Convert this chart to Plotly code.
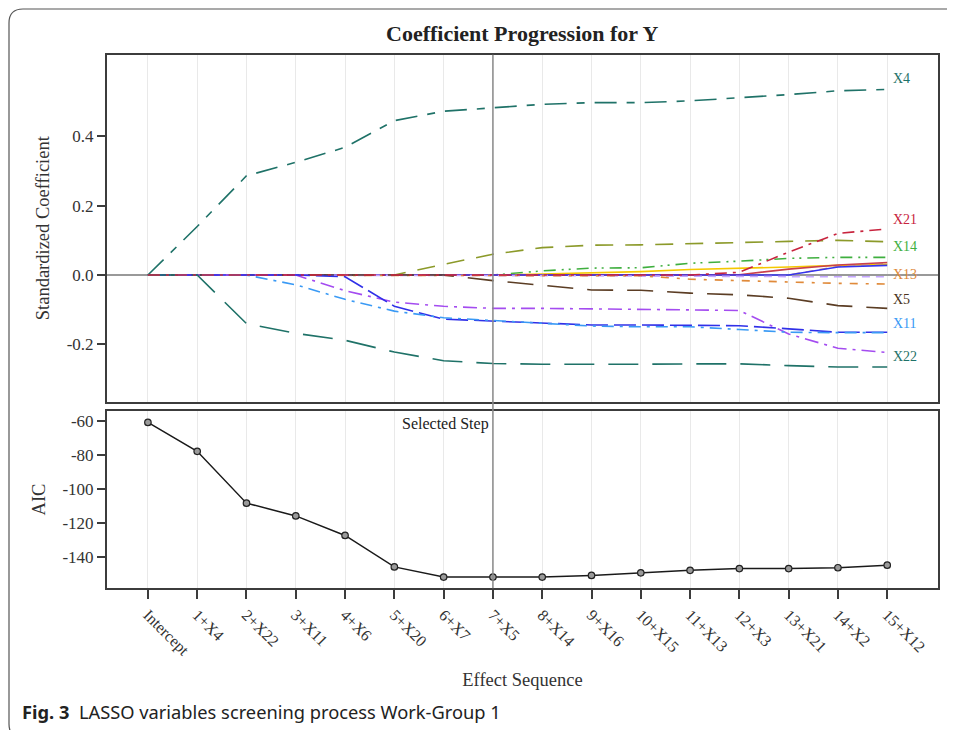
import plotly.graph_objects as go

# The page body has an 8px margin, so the figure is drawn 8px in from the window edge.
OFF = 8
W, H = 955 - OFF, 730 - OFF

steps = ["Intercept", "1+X4", "2+X22", "3+X11", "4+X6", "5+X20", "6+X7", "7+X5",
         "8+X14", "9+X16", "10+X15", "11+X13", "12+X3", "13+X21", "14+X2", "15+X12"]

aic = [-61, -78, -108.5, -116, -127.5, -146, -152, -152, -152, -151, -149.5,
       -148, -147, -147, -146.5, -145]

x4  = [0, 0.14, 0.286, 0.325, 0.368, 0.445, 0.472, 0.482, 0.492, 0.497, 0.497,
       0.502, 0.51, 0.52, 0.531, 0.535]
x22 = [0, 0, -0.14, -0.168, -0.188, -0.222, -0.247, -0.255, -0.257, -0.258, -0.257,
       -0.256, -0.256, -0.261, -0.265, -0.265]
x11 = [0, 0, 0, -0.028, -0.07, -0.104, -0.123, -0.131, -0.138, -0.147, -0.149,
       -0.149, -0.157, -0.165, -0.166, -0.166]
x6  = [0, 0, 0, 0, -0.005, -0.09, -0.127, -0.132, -0.137, -0.144, -0.144,
       -0.146, -0.146, -0.155, -0.165, -0.165]
x20 = [0, 0, 0, 0, -0.045, -0.078, -0.09, -0.096, -0.096, -0.097, -0.098,
       -0.101, -0.102, -0.17, -0.211, -0.223]
x7  = [0, 0, 0, 0, 0, 0, 0.031, 0.06, 0.079, 0.086, 0.087, 0.091, 0.094, 0.097,
       0.1, 0.096]
x5  = [0, 0, 0, 0, 0, 0, 0, -0.016, -0.03, -0.043, -0.044, -0.052, -0.057, -0.067,
       -0.088, -0.096]
x14 = [0, 0, 0, 0, 0, 0, 0, 0, 0.012, 0.02, 0.021, 0.034, 0.04, 0.048, 0.051, 0.051]
x16 = [0, 0, 0, 0, 0, 0, 0, 0, 0.003, 0.006, 0.01, 0.016, 0.019, 0.023, 0.028, 0.031]
x13 = [0, 0, 0, 0, 0, 0, 0, 0, 0, 0, -0.002, -0.012, -0.016, -0.021, -0.024, -0.026]
x15 = [0, 0, 0, 0, 0, 0, 0, 0, 0, -0.002, -0.003, -0.004, -0.004, -0.005, -0.005, -0.005]
x21 = [0, 0, 0, 0, 0, 0, 0, 0, 0, 0, 0, 0, 0.008, 0.066, 0.12, 0.133]
x3  = [0, 0, 0, 0, 0, 0, 0, 0, 0, 0, 0, 0, 0, 0, 0.023, 0.028]
x2  = [0, 0, 0, 0, 0, 0, 0, 0, 0, 0, 0, 0, 0.001, 0.017, 0.029, 0.036]
x12 = [0, 0, 0, 0, 0, 0, 0, 0, 0, 0, 0, 0, 0, 0, 0.025, 0.034]

series = [
    ("X7",  x7,  "#8c9a2a", "18px,12px"),
    ("X14", x14, "#3faf3f", "12px,6px,2px,5px,2px,6px"),
    ("X16", x16, "#f5c800", "solid"),
    ("X12", x12, "#d9a27a", "8px,6px"),
    ("X2",  x2,  "#c9404e", "solid"),
    ("X3",  x3,  "#3434f0", "solid"),
    ("X15", x15, "#c4a6ff", "8px,6px"),
    ("X13", x13, "#e08a3a", "8px,8px,3px,8px"),
    ("X5",  x5,  "#5b3d24", "26px,14px"),
    ("X20", x20, "#a44cf0", "14px,6px,3px,6px"),
    ("X6",  x6,  "#3030e8", "22px,6px"),
    ("X11", x11, "#3a9af5", "12px,6px,3px,6px"),
    ("X22", x22, "#1f7268", "30px,14px"),
    ("X4",  x4,  "#1f7268", "22px,10px,8px,10px"),
    ("X21", x21, "#c8243e", "12px,6px,3px,6px"),
]

labels = [("X4", 0.565, "#1f7268"), ("X21", 0.16, "#c8243e"), ("X14", 0.081, "#3faf3f"),
          ("X13", 0.003, "#e08a3a"), ("X5", -0.07, "#4a3320"), ("X11", -0.14, "#3a9af5"),
          ("X22", -0.236, "#1f7268")]

coef_ticks = [-0.2, 0.0, 0.2, 0.4]
coef_ticktext = ["-0.2", "0.0", "0.2", "0.4"]
aic_ticks = [-140, -120, -100, -80, -60]
aic_ticktext = ["-140", "-120", "-100", "-80", "-60"]

xs = list(range(len(steps)))
SERIF = "Liberation Serif"


def px(v):
    return (v - OFF) / W


def py(v):
    return 1 - (v - OFF) / H


fig = go.Figure()
for name, vals, col, dash in series:
    fig.add_trace(go.Scatter(x=xs, y=vals, mode="lines", name=name,
                             line=dict(color=col, width=1.6, dash=dash),
                             xaxis="x", yaxis="y", showlegend=False))

fig.add_trace(go.Scatter(x=xs, y=aic, mode="lines+markers", name="AIC",
                         line=dict(color="#1a1a1a", width=1.5),
                         marker=dict(symbol="circle", size=6.5, color="#9a9a9a",
                                     line=dict(color="#222", width=1.2)),
                         xaxis="x2", yaxis="y2", showlegend=False))

xr = [-0.83, 16.03]
xdom = [px(107), px(938)]
axis_common = dict(showline=True, mirror=True, linecolor="#3c3c3c", linewidth=2,
                   range=xr, tickmode="array", tickvals=xs, showgrid=True,
                   gridcolor="#e9e9e9", gridwidth=1, zeroline=False)
tickfont = dict(family=SERIF, size=17, color="#333")
titlefont = dict(family=SERIF, size=18.5, color="#333")

fig.update_layout(
    width=W, height=H, margin=dict(l=0, r=0, t=0, b=0),
    paper_bgcolor="white", plot_bgcolor="white",
    xaxis=dict(domain=xdom, anchor="y", showticklabels=False, ticks="", **axis_common),
    yaxis=dict(domain=[py(401.7), py(54.7)], anchor="x", range=[-0.365, 0.635],
               tickmode="array", tickvals=coef_ticks, ticktext=coef_ticktext,
               ticks="outside", ticklen=8, tickwidth=1.5, tickcolor="#3c3c3c",
               showline=True, mirror=True, linecolor="#3c3c3c", linewidth=2,
               showgrid=False, zeroline=True, zerolinecolor="#999999", zerolinewidth=1.5,
               tickfont=tickfont,
               title=dict(text="Standardized Coefficient", font=titlefont, standoff=12)),
    xaxis2=dict(domain=xdom, anchor="y2", ticktext=steps, ticks="outside", ticklen=9,
                tickwidth=1.5, tickcolor="#3c3c3c", tickangle=45,
                tickfont=dict(family=SERIF, size=16, color="#333"),
                title=dict(text="Effect Sequence", font=titlefont, standoff=14),
                **axis_common),
    yaxis2=dict(domain=[py(588.3), py(410.7)], anchor="x2", range=[-158.6, -54.1],
                tickmode="array", tickvals=aic_ticks, ticktext=aic_ticktext,
                ticks="outside", ticklen=8, tickwidth=1.5, tickcolor="#3c3c3c",
                showline=True, mirror=True, linecolor="#3c3c3c", linewidth=2,
                showgrid=False, zeroline=False,
                tickfont=tickfont,
                title=dict(text="AIC", font=titlefont, standoff=12)),
    showlegend=False,
)

# selected step line
fig.add_shape(type="line", xref="x", yref="paper", x0=7, x1=7,
              y0=py(588.3), y1=py(54.7), line=dict(color="#8a8a8a", width=1.5))

# outer rounded frame (right edge runs off the page)
x0, x1, y0, y1, r = 9, 975, 9, 738, 14
path = (f"M {px(x0 + r)},{py(y0)} L {px(x1 - r)},{py(y0)} "
        f"Q {px(x1)},{py(y0)} {px(x1)},{py(y0 + r)} L {px(x1)},{py(y1 - r)} "
        f"Q {px(x1)},{py(y1)} {px(x1 - r)},{py(y1)} L {px(x0 + r)},{py(y1)} "
        f"Q {px(x0)},{py(y1)} {px(x0)},{py(y1 - r)} L {px(x0)},{py(y0 + r)} "
        f"Q {px(x0)},{py(y0)} {px(x0 + r)},{py(y0)} Z")
fig.add_shape(type="path", xref="paper", yref="paper", path=path,
              line=dict(color="#555", width=1.2))

# title
fig.add_annotation(xref="paper", yref="paper", x=px(522), y=py(33),
                   text="<b>Coefficient Progression for Y</b>", showarrow=False,
                   xanchor="center", yanchor="middle",
                   font=dict(family=SERIF, size=22, color="#222"))

# selected step text
fig.add_annotation(xref="x2", yref="paper", x=7, y=py(424), text="Selected Step",
                   showarrow=False, xanchor="right", yanchor="middle", xshift=-2,
                   font=dict(family=SERIF, size=16, color="#222"))

# end labels
for name, yv, col in labels:
    fig.add_annotation(xref="x", yref="y", x=15, y=yv, text=name, showarrow=False,
                       xanchor="left", yanchor="middle", xshift=4,
                       font=dict(family=SERIF, size=14, color=col))

# caption
fig.add_annotation(xref="paper", yref="paper", x=px(20), y=py(711),
                   text="<b>Fig. 3</b>  LASSO variables screening process Work-Group 1",
                   showarrow=False, xanchor="left", yanchor="middle",
                   font=dict(family="Noto Sans", size=18.3, color="#222"))

fig.write_html("out.html", config={"displayModeBar": False})
